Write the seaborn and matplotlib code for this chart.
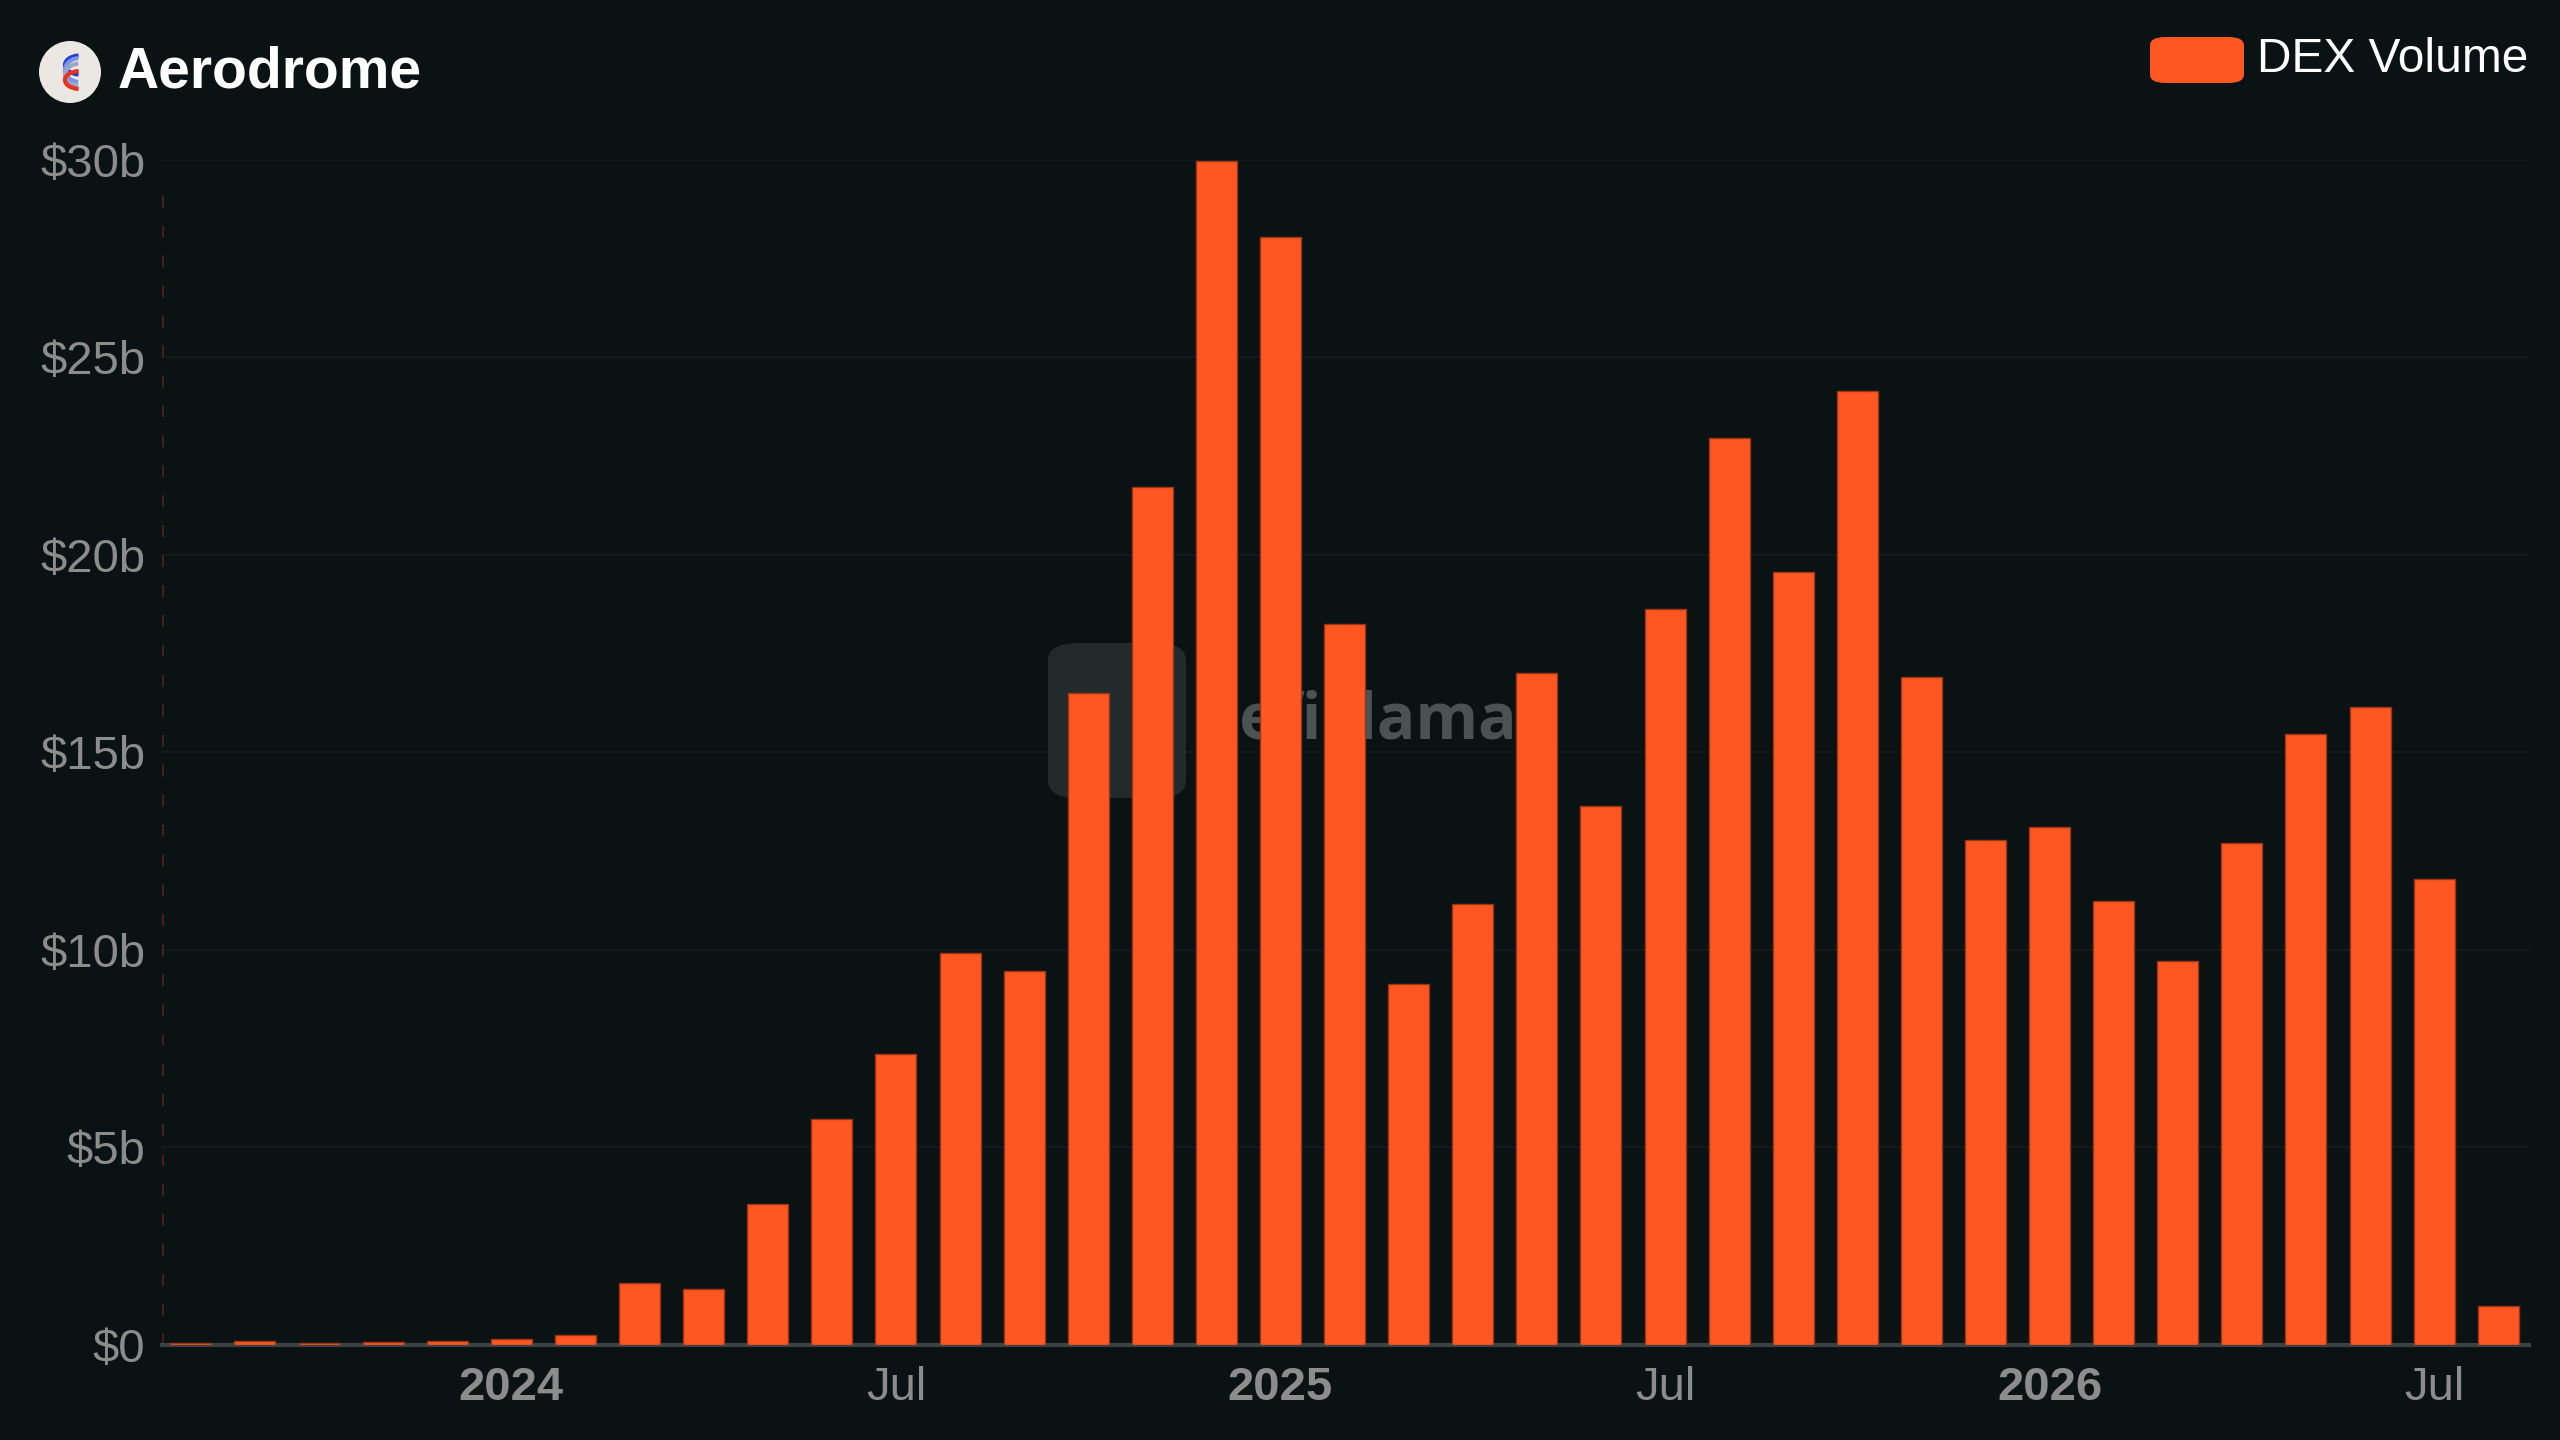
import pandas as pd
import seaborn as sns
import matplotlib.pyplot as plt
from matplotlib.patches import FancyBboxPatch, Ellipse, Arc

# Monthly DEX volume for Aerodrome, in billions of USD
months = ["2023-08", "2023-09", "2023-10", "2023-11", "2023-12",
          "2024-01", "2024-02", "2024-03", "2024-04", "2024-05", "2024-06",
          "2024-07", "2024-08", "2024-09", "2024-10", "2024-11", "2024-12",
          "2025-01", "2025-02", "2025-03", "2025-04", "2025-05", "2025-06",
          "2025-07", "2025-08", "2025-09", "2025-10", "2025-11", "2025-12",
          "2026-01", "2026-02", "2026-03", "2026-04", "2026-05", "2026-06",
          "2026-07", "2026-08"]
volume_b = [0.04, 0.09, 0.06, 0.07, 0.11,
            0.16, 0.24, 1.57, 1.41, 3.56, 5.71,
            7.36, 9.93, 9.47, 16.51, 21.72, 29.97,
            28.05, 18.25, 9.14, 11.17, 17.0, 13.65,
            18.62, 22.96, 19.57, 24.16, 16.92, 12.78,
            13.12, 11.25, 9.72, 12.70, 15.47, 16.14,
            11.79, 0.99]

tick_months = ["2024-01", "2024-07", "2025-01", "2025-07", "2026-01", "2026-07"]
tick_labels = ["2024", "Jul", "2025", "Jul", "2026", "Jul"]
y_ticks = [0, 5, 10, 15, 20, 25, 30]
y_labels = ["$0", "$5b", "$10b", "$15b", "$20b", "$25b", "$30b"]

bg = "#0b1214"
bar_color = "#ff5722"
label_gray = "#8c8c8c"

sns.set_theme(style="dark")
plt.rcParams["font.family"] = ["Liberation Sans", "DejaVu Sans"]

df = pd.DataFrame({"month": months, "volume": volume_b})

fig = plt.figure(figsize=(25.6, 14.4), dpi=100, facecolor=bg)
ax = fig.add_axes([0.0633, 0.066, 0.9246, 0.823])
ax.set_facecolor(bg)

# watermark behind the bars
wm = FancyBboxPatch((1048 / 2560, 1 - 798 / 1440), 138 / 2560, 155 / 1440,
                    boxstyle="round,pad=0,rounding_size=0.012",
                    transform=fig.transFigure, facecolor="#232a2c",
                    edgecolor="none", zorder=1)
ax.add_patch(wm)
ax.text(1192 / 2560, 1 - 722 / 1440, "DefiLlama", color="#4b5254",
        fontsize=46, fontweight="bold", va="center", ha="left",
        family=["Open Sans", "DejaVu Sans"], zorder=1,
        transform=fig.transFigure)

sns.barplot(data=df, x="month", y="volume", order=months, color=bar_color,
            saturation=1, width=0.64, edgecolor="#9c3516", linewidth=1.0,
            ax=ax, zorder=3)

ax.set_xlim(-0.45, len(months) - 1 + 0.48)
ax.set_ylim(0, 30)
ax.set_xlabel("")
ax.set_ylabel("")

ax.set_yticks(y_ticks)
ax.set_yticklabels(y_labels)
ax.yaxis.grid(True, color="#141b1e", linewidth=1.5)
ax.xaxis.grid(False)
ax.tick_params(axis="y", length=0, pad=12, labelsize=34, labelcolor=label_gray)

ax.set_xticks([months.index(m) for m in tick_months])
ax.set_xticklabels(tick_labels)
ax.tick_params(axis="x", length=9, width=2, color="white", direction="out",
               pad=6, labelsize=34, labelcolor=label_gray)
for lab in ax.get_xticklabels():
    if lab.get_text() != "Jul":
        lab.set_fontweight("bold")

for side in ["top", "right", "left"]:
    ax.spines[side].set_visible(False)
ax.spines["bottom"].set_color("#3b4244")
ax.spines["bottom"].set_linewidth(3)

# dashed marker on the left edge
ax.axvline(-0.45, ymin=0, ymax=0.985, color="#42211a", linewidth=2.2,
           linestyle=(0, (3.9, 5.9)), zorder=2)

# title with logo
cx, cy = 70 / 2560, 1 - 72 / 1440
logo = Ellipse((cx, cy), 62 / 2560, 62 / 1440, transform=fig.transFigure,
               facecolor="#ebe8e3", edgecolor="none")
fig.patches.append(logo)
for dy, col in [(-7, "#1d3fd6"), (-2, "#7d93e6"), (3, "#9aa6c8"), (8, "#e8321f")]:
    arc = Arc((cx + 10 / 2560, cy - dy / 1440), 30 / 2560, (26 - abs(dy)) / 1440,
              theta1=95, theta2=265, transform=fig.transFigure,
              color=col, linewidth=3)
    fig.patches.append(arc)
fig.text(118 / 2560, 1 - 72 / 1440, "Aerodrome", color="white", fontsize=41,
         fontweight="bold", va="center", ha="left")

# legend
leg = FancyBboxPatch((2150 / 2560, 1 - 83 / 1440), 94 / 2560, 46 / 1440,
                     boxstyle="round,pad=0,rounding_size=0.006",
                     transform=fig.transFigure, facecolor=bar_color,
                     edgecolor="none")
fig.patches.append(leg)
fig.text(2257 / 2560, 1 - 60 / 1440, "DEX Volume", color="white", fontsize=34.5,
         va="center", ha="left")

fig.savefig("out.png", dpi=100, facecolor=bg)
